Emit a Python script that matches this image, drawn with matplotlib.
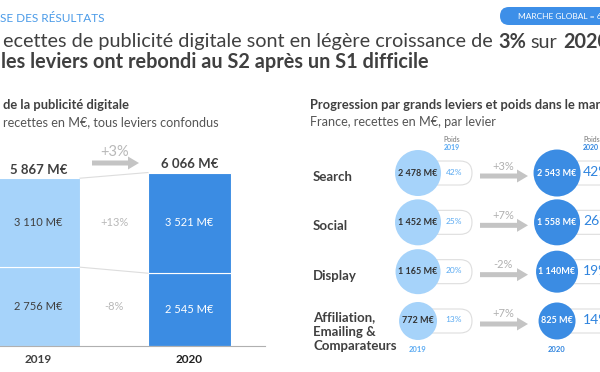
import matplotlib.pyplot as plt
from matplotlib.patches import FancyBboxPatch, FancyArrow

plt.rcParams['font.family'] = ['Lato', 'DejaVu Sans']

# --- data ---
years = ['2019', '2020']
s1 = [2756, 2545]          # bottom segment (S1)
s2 = [3110, 3521]          # top segment (S2)
totals = [5867, 6066]
seg_growth = ['-8%', '+13%']
total_growth = '+3%'

levers = ['Search', 'Social', 'Display', 'Affiliation,\nEmailing &\nComparateurs']
rev_2019 = [2478, 1452, 1165, 772]
rev_2020 = [2543, 1558, 1140, 825]
share_2019 = [42, 25, 20, 13]
share_2020 = [42, 26, 19, 14]
lever_growth = ['+3%', '+7%', '-2%', '+7%']

LIGHT = '#a6d3fa'
DARK = '#3b8ce3'
GREY = '#c4c4c4'
TXT = '#404040'


def fmt(v):
    return f'{v:,}'.replace(',', '\u00a0') + ' M€'


fig = plt.figure(figsize=(6, 3.72), dpi=100)

# overlay in pixel coords (y down)
ov = fig.add_axes([0, 0, 1, 1], zorder=0)
ov.set_xlim(0, 600)
ov.set_ylim(372, 0)
ov.axis('off')

r = fig.canvas.get_renderer()


def width_of(s, size, weight='normal'):
    t = ov.text(0, 0, s, fontsize=size, fontweight=weight)
    wd = t.get_window_extent(r).width
    t.remove()
    return wd


def fit_size(s, target, weight='normal'):
    # font size that gives the text the width seen in the reference
    return 10 * target / width_of(s, 10, weight)


def seq_text(x, y, parts, size, color):
    sp = width_of('x x', size) - width_of('xx', size)
    for s, w in parts:
        t = ov.text(x, y, s, fontsize=size, fontweight=w, color=color, va='center', ha='left')
        x += t.get_window_extent(r).width + sp


# header
ov.text(0, 18, 'SE DES RÉSULTATS', fontsize=8.5, color='#4b9be8', va='center')
t1 = 'ecettes de publicité digitale sont en légère croissance de'
seq_text(3, 42, [(t1, 'normal'), ('3%', 'bold'), ('sur', 'normal'), ('2020', 'bold')],
         fit_size(t1, 492), TXT)
t2 = 'les leviers ont rebondi au S2 après un S1 difficile'
ov.text(1, 62, t2, fontsize=fit_size(t2, 429, 'bold'),
        fontweight='bold', color=TXT, va='center')
ov.add_patch(FancyBboxPatch((500, 7), 140, 18, boxstyle='round,pad=0,rounding_size=9',
                            fc='#3d8fe8', ec='none'))
ov.text(518, 16.5, 'MARCHE GLOBAL = 6', fontsize=6, color='white', va='center')

# section titles
h1 = 'de la publicité digitale'
ov.text(3, 105, h1, fontsize=fit_size(h1, 125, 'bold'), fontweight='bold', color=TXT, va='center')
h2 = 'recettes en M€, tous leviers confondus'
ov.text(3, 122, h2, fontsize=fit_size(h2, 217), color='#555555', va='center')
h3 = 'Progression par grands leviers et poids dans le mar'
ov.text(310, 105, h3 + 'ché', fontsize=fit_size(h3, 291, 'bold'),
        fontweight='bold', color=TXT, va='center')
h4 = 'France, recettes en M€, par levier'
ov.text(310, 122, h4, fontsize=fit_size(h4, 187), color='#555555', va='center')

# --- left: stacked bars ---
ax = fig.add_axes([0, 26 / 372, 265 / 600, 200 / 372], zorder=1)
ax.patch.set_visible(False)
x = [0, 1]
w = 0.55
ax.bar(x, s1, width=w, color=[LIGHT, DARK], edgecolor='white', linewidth=0.8)
ax.bar(x, s2, bottom=s1, width=w, color=[LIGHT, DARK], edgecolor='white', linewidth=0.8)
ax.set_xlim(-0.255, 1.5)
ax.set_ylim(0, 6993)
for sp_ in ['top', 'right', 'left']:
    ax.spines[sp_].set_visible(False)
ax.spines['bottom'].set_color('#b0b0b0')
ax.set_yticks([])
ax.set_xticks(x, years, fontsize=8.5, fontweight='bold')
ax.tick_params(axis='x', length=0, pad=6, colors=TXT)
ax.get_xticklabels()[1].set_color('#222222')

# connectors between bars
ax.plot([x[0] + w / 2, x[1] - w / 2], [totals[0], totals[1]], color='#dddddd', lw=0.8)
ax.plot([x[0] + w / 2, x[1] - w / 2], [s1[0], s1[1]], color='#dddddd', lw=0.8)

lab_col = [TXT, 'white']
for i in x:
    ax.text(i, totals[i] + 300, fmt(totals[i]), ha='center', va='center', fontsize=9.5,
            fontweight='bold', color=TXT)
    ax.text(i, s1[i] / 2, fmt(s1[i]), ha='center', va='center', fontsize=8, color=lab_col[i])
    ax.text(i, s1[i] + s2[i] / 2, fmt(s2[i]), ha='center', va='center', fontsize=8, color=lab_col[i])
ax.text(0.5, s1[0] / 2, seg_growth[0], ha='center', va='center', fontsize=8, color='#b8b8b8')
ax.text(0.5, s1[0] + s2[0] / 2, seg_growth[1], ha='center', va='center', fontsize=8, color='#b8b8b8')

ov.add_patch(FancyArrow(92, 163, 47, 0, width=5, head_width=13, head_length=11,
                        length_includes_head=True, color=GREY, lw=0))
ov.text(115, 152, total_growth, fontsize=10.5, color='#b8b8b8', ha='center', va='center')

# --- right: bubbles ---
bx = fig.add_axes([0.5, 0, 0.5, 242 / 372], zorder=1)
bx.patch.set_visible(False)
bx.axis('off')
bx.set_xlim(-0.849, 1.309)
bx.set_ylim(4.034, -0.872)

rows = list(range(len(levers)))
r19 = [23, 23, 22.5, 19]      # bubble radius in px
r20 = [23.5, 23, 21, 18.5]


def to_px(xd, yd):
    d = bx.transData.transform((xd, yd))
    return d[0], 372 - d[1]


x19, _ = to_px(0, 0)
x20, _ = to_px(1, 0)

for i in rows:
    _, y = to_px(0, i)
    # weight pills
    ov.add_patch(FancyBboxPatch((x19, y - 12), 472 - x19, 24,
                                boxstyle='round,pad=0,rounding_size=12',
                                fc='white', ec='#dedede', lw=0.8))
    ov.add_patch(FancyBboxPatch((x20, y - 12), 80, 24,
                                boxstyle='round,pad=0,rounding_size=12',
                                fc='white', ec='#dedede', lw=0.8))
    ov.text(454, y - 1, f'{share_2019[i]}%', fontsize=6, color='#5aaaf2', ha='center', va='center')
    ov.text(583, y - 1, f'{share_2020[i]}%', fontsize=10, color='#2f84de', ha='left', va='center')
    # growth arrows
    ov.add_patch(FancyArrow(480, y + 3, 48, 0, width=5, head_width=13, head_length=11,
                            length_includes_head=True, color=GREY, lw=0))
    ov.text(503, y - 7, lever_growth[i], fontsize=8, color='#b0b0b0', ha='center', va='center')

bx.scatter([0] * 4, rows, s=[(2 * v * 0.72) ** 2 for v in r19], color=LIGHT, lw=0, zorder=3)
bx.scatter([1] * 4, rows, s=[(2 * v * 0.72) ** 2 for v in r20], color=DARK, lw=0, zorder=3)

lab20 = [fmt(v) for v in rev_2020]
lab20[2] = '1\u00a0140M€'
for i in rows:
    bx.text(0, i, fmt(rev_2019[i]), ha='center', va='center', fontsize=6.5,
            fontweight='bold', color='#333333', zorder=4)
    bx.text(1, i, lab20[i], ha='center', va='center', fontsize=6.5,
            fontweight='bold', color='white', zorder=4)
    _, y = to_px(0, i)
    ov.text(313, y + (11 if i == 3 else 4), levers[i], fontsize=9.5, fontweight='bold',
            color=TXT, va='center', ha='left', linespacing=1.25)

ov.text(452, 139, 'Poids', fontsize=5, color='#777777', ha='center', va='center')
ov.text(452, 147, '2019', fontsize=5, color='#5aaaf2', fontweight='bold', ha='center', va='center')
ov.text(583, 139, 'Poids', fontsize=5, color='#777777', ha='left', va='center')
ov.text(583, 147, '2020', fontsize=5, color='#2f84de', fontweight='bold', ha='left', va='center')
ov.text(x19, 349, '2019', fontsize=5.5, color='#5aaaf2', fontweight='bold', ha='center', va='center')
ov.text(x20, 349, '2020', fontsize=5.5, color='#2f84de', fontweight='bold', ha='center', va='center')

fig.savefig('out.png', dpi=100)
